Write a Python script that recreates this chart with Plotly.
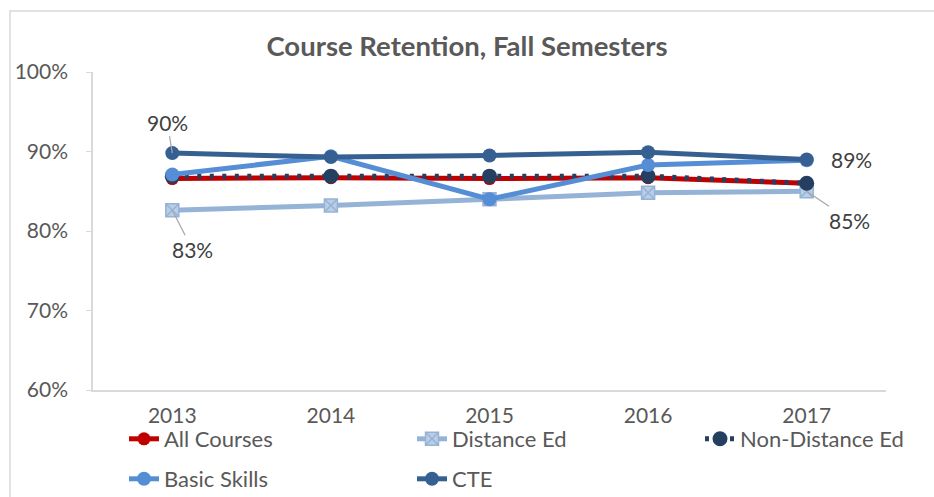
import plotly.graph_objects as go

years = ["2013", "2014", "2015", "2016", "2017"]
all_courses = [0.866, 0.867, 0.866, 0.867, 0.860]
distance_ed = [0.826, 0.832, 0.840, 0.848, 0.850]
non_distance_ed = [0.869, 0.869, 0.869, 0.869, 0.860]
basic_skills = [0.871, 0.894, 0.840, 0.883, 0.889]
cte = [0.898, 0.893, 0.895, 0.899, 0.890]

FONT = "Lato"
TXT = "#595959"

fig = go.Figure()
fig.add_trace(go.Scatter(x=years, y=all_courses, name="All Courses", mode="lines+markers",
                         line=dict(color="#C00000", width=5),
                         marker=dict(size=13, color="#C00000"), legend="legend"))
fig.add_trace(go.Scatter(x=years, y=distance_ed, name="Distance Ed", mode="lines+markers",
                         line=dict(color="#95B3D7", width=5),
                         marker=dict(size=13, symbol="square-x", color="#B9CDE5",
                                     line=dict(color="#95B3D7", width=1.5)), legend="legend2"))
fig.add_trace(go.Scatter(x=years, y=non_distance_ed, name="Non-Distance Ed", mode="lines+markers",
                         line=dict(color="#243F60", width=5, dash="4px,8.5px"),
                         marker=dict(size=15, color="#243F60"), legend="legend3"))
fig.add_trace(go.Scatter(x=years, y=basic_skills, name="Basic Skills", mode="lines+markers",
                         line=dict(color="#558ED5", width=5),
                         marker=dict(size=14, color="#558ED5"), legend="legend4"))
fig.add_trace(go.Scatter(x=years, y=cte, name="CTE", mode="lines+markers",
                         line=dict(color="#366092", width=5),
                         marker=dict(size=14, color="#366092"), legend="legend5"))

ann_font = dict(family=FONT, size=21, color="#404040")
fig.add_annotation(x=0, y=cte[0], text="90%", showarrow=True, arrowhead=0,
                   arrowcolor="#A6A6A6", arrowwidth=1.2, ax=-5, ay=-31, font=ann_font)
fig.add_annotation(x=0, y=distance_ed[0], text="83%", showarrow=True, arrowhead=0,
                   arrowcolor="#A6A6A6", arrowwidth=1.2, ax=20, ay=39, font=ann_font)
fig.add_annotation(x=4, y=cte[4], text="89%", showarrow=False,
                   xanchor="left", xshift=22, font=ann_font)
fig.add_annotation(x=4, y=distance_ed[4], text="85%", showarrow=True, arrowhead=0,
                   arrowcolor="#A6A6A6", arrowwidth=1.2, ax=43, ay=29, font=ann_font)

# chart border (top and left edges visible)
fig.add_shape(type="rect", xref="paper", yref="paper",
              x0=(10 - 93) / 793, x1=1.2, y0=-0.5, y1=(390 - 11) / 318,
              line=dict(color="#D9D9D9", width=1.5), fillcolor="rgba(0,0,0,0)")


def leg(px, py):
    return dict(orientation="h", xanchor="left", yanchor="middle",
                x=(px - 93) / 793, y=(390 - py) / 318,
                font=dict(family=FONT, size=22, color=TXT),
                bgcolor="rgba(0,0,0,0)")


fig.update_layout(
    width=934, height=497,
    showlegend=True,
    margin=dict(l=93, r=48, t=72, b=107, autoexpand=False),
    paper_bgcolor="white", plot_bgcolor="white",
    font=dict(family=FONT, color=TXT),
    title=dict(text="<b>Course Retention, Fall Semesters</b>", x=0.5, xanchor="center",
               y=1 - 46 / 497, yanchor="middle",
               font=dict(family=FONT, size=27.5, color=TXT)),
    legend=leg(124, 439),
    legend2=leg(412, 439),
    legend3=leg(700, 439),
    legend4=leg(124, 479),
    legend5=leg(412, 479),
    xaxis=dict(type="category", range=[-0.5, 4.5], showline=True, linecolor="#D9D9D9",
               linewidth=1.5, ticks="", showgrid=False, zeroline=False,
               tickfont=dict(family=FONT, size=21, color=TXT), ticklabelstandoff=6),
    yaxis=dict(range=[0.6, 1.0], dtick=0.1, tickformat=".0%", showline=True,
               linecolor="#D9D9D9", linewidth=1.5, ticks="outside", ticklen=5,
               tickcolor="#D9D9D9", showgrid=False, zeroline=False,
               tickfont=dict(family=FONT, size=21, color=TXT), ticklabelstandoff=14),
)

fig.write_html("out.html", config={"displayModeBar": False},
               post_script="document.body.style.margin='0';")
